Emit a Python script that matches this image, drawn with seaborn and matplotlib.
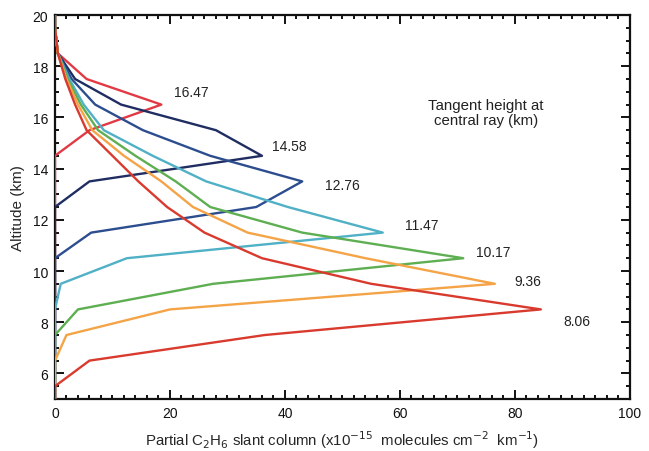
import matplotlib
matplotlib.use("Agg")
import matplotlib.pyplot as plt
from matplotlib.ticker import MultipleLocator
import numpy as np
import pandas as pd
import seaborn as sns

# Altitude grid (km) shared by every profile
altitude_km = [5.0, 5.5, 6.5, 7.5, 8.5, 9.5, 10.5, 11.5, 12.5,
               13.5, 14.5, 15.5, 16.5, 17.5, 18.5, 19.5, 20.0]

# Partial C2H6 slant column (x1e-15 molecules cm-2 km-1) per tangent height
th_8_06 = [0, 0, 6, 36.5, 84.5, 55, 36, 26, 19.5, 14.5, 10, 5.5, 3.5, 1.8, 0.5, 0, 0]
th_9_36 = [0, 0, 0, 2, 20, 76.5, 54, 33.5, 24, 18.5, 12, 6.5, 4, 2, 0.5, 0, 0]
th_10_17 = [0, 0, 0, 0, 4, 27.5, 71, 43, 27, 21, 14, 7.5, 4.5, 2.2, 0.5, 0, 0]
th_11_47 = [0, 0, 0, 0, 0, 1, 12.5, 57, 40.5, 26.3, 17, 8.5, 5, 2.5, 0.5, 0, 0]
th_12_76 = [0, 0, 0, 0, 0, 0, 0, 6.3, 35, 43, 27, 15.3, 7, 2.9, 0.5, 0, 0]
th_14_58 = [0, 0, 0, 0, 0, 0, 0, 0, 0, 6, 36, 28, 11.5, 3.5, 0.5, 0, 0]
th_16_47 = [0, 0, 0, 0, 0, 0, 0, 0, 0, 0, 0, 6, 18.5, 5.5, 0.5, 0, 0]

tangent_labels = ["8.06", "9.36", "10.17", "11.47", "12.76", "14.58", "16.47"]
profiles = [th_8_06, th_9_36, th_10_17, th_11_47, th_12_76, th_14_58, th_16_47]
line_colors = ["#d93a2e", "#f4a447", "#5eae52", "#4fb0c6", "#2c4d8e", "#1f2d62", "#e23a45"]

# Label anchor positions (data coords) for the tangent-height annotations
label_x = [90.7, 82.3, 76.3, 63.8, 50.0, 40.7, 23.7]
label_y = [8.06, 9.62, 10.74, 11.8, 13.36, 14.87, 16.98]

frames = []
for lab, vals in zip(tangent_labels, profiles):
    frames.append(pd.DataFrame({"altitude": altitude_km, "column": vals, "tangent": lab}))
df = pd.concat(frames, ignore_index=True)

sns.set_theme(style="ticks")
plt.rcParams["font.family"] = ["Liberation Sans", "DejaVu Sans"]

fig = plt.figure(figsize=(6.49, 4.52), dpi=100)
ax = fig.add_axes([0.0847, 0.115, 0.886, 0.8496])

palette = dict(zip(tangent_labels, line_colors))
sns.lineplot(data=df, x="column", y="altitude", hue="tangent",
             hue_order=tangent_labels[::-1], palette=palette,
             sort=False, estimator=None, orient="y", legend=False,
             linewidth=1.7, ax=ax, zorder=3)

for lab, lx, ly in zip(tangent_labels, label_x, label_y):
    ax.text(lx, ly, lab, ha="center", va="center", fontsize=10, color="#222222")

ax.text(75.0, 16.2, "Tangent height at\ncentral ray (km)", ha="center", va="center",
        fontsize=10.8, color="#222222", linespacing=1.05)

ax.set_xlim(0, 100)
ax.set_ylim(5, 20)
ax.xaxis.set_major_locator(MultipleLocator(20))
ax.xaxis.set_minor_locator(MultipleLocator(2))
ax.set_yticks(np.arange(6, 21, 2))
ax.yaxis.set_minor_locator(MultipleLocator(0.5))
ax.tick_params(which="both", direction="in", top=True, right=True,
               width=1.4, colors="#111111", labelsize=10, pad=5)
ax.tick_params(which="major", length=6.5)
ax.tick_params(which="minor", length=3.2)
for sp in ax.spines.values():
    sp.set_visible(True)
    sp.set_linewidth(1.6)
    sp.set_color("#111111")

ax.set_ylabel("Altitude (km)", fontsize=11, labelpad=5)
ax.set_xlabel(r"Partial C$_2$H$_6$ slant column (x10$^{-15}$  molecules cm$^{-2}$  km$^{-1}$)",
              fontsize=10.8, labelpad=6)

fig.savefig("out.png", dpi=100)
